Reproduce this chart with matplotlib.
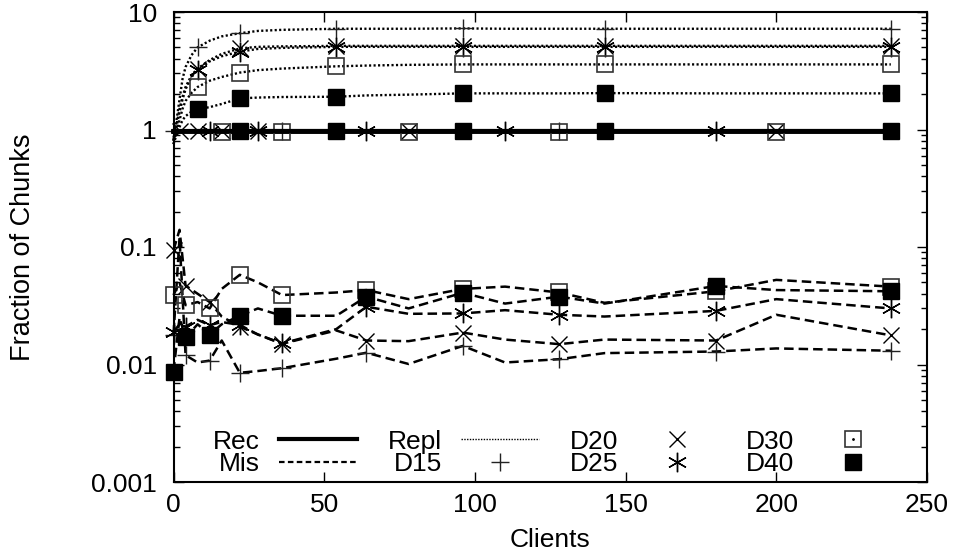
import matplotlib
matplotlib.use("Agg")
import matplotlib.pyplot as plt
from matplotlib.lines import Line2D

plt.rcParams['font.family'] = ['Liberation Sans Narrow', 'Liberation Sans', 'DejaVu Sans']

# client counts of the Rec / Mis measurements
clients = [0, 2, 4, 8, 12, 16, 22, 28, 36, 54, 64, 78, 96, 110, 128, 143, 180, 200, 238]
# client counts of the Repl measurements (denser at the start)
repl_clients = [0, 1, 2, 3, 4, 6, 8, 12, 16, 22, 28, 36, 54, 64, 78, 96, 110, 128, 143, 180, 200, 238]

series = ['D15', 'D20', 'D25', 'D30', 'D40']

rec = {
    'D15': [0.965, 0.966, 0.966, 0.965, 0.966, 0.965, 0.966, 0.966, 0.965, 0.966, 0.966, 0.965, 0.966, 0.966, 0.965, 0.966, 0.966, 0.965, 0.966],
    'D20': [0.970, 0.970, 0.969, 0.970, 0.970, 0.970, 0.969, 0.970, 0.970, 0.970, 0.970, 0.969, 0.970, 0.970, 0.970, 0.970, 0.969, 0.970, 0.970],
    'D25': [0.960, 0.961, 0.962, 0.962, 0.962, 0.962, 0.962, 0.962, 0.962, 0.962, 0.962, 0.962, 0.962, 0.962, 0.962, 0.962, 0.962, 0.962, 0.962],
    'D30': [0.955, 0.957, 0.958, 0.958, 0.958, 0.958, 0.958, 0.958, 0.958, 0.958, 0.958, 0.958, 0.958, 0.958, 0.958, 0.958, 0.958, 0.958, 0.958],
    'D40': [0.968, 0.968, 0.968, 0.968, 0.968, 0.968, 0.968, 0.968, 0.968, 0.968, 0.968, 0.968, 0.968, 0.968, 0.968, 0.968, 0.968, 0.968, 0.968],
}

mis = {
    'D15': [0.018, 0.12, 0.012, 0.0104, 0.0108, 0.016, 0.0085, 0.0088, 0.0093, 0.0112, 0.0126, 0.0101, 0.0144, 0.0104, 0.0111, 0.0125, 0.0129, 0.0137, 0.0131],
    'D20': [0.094, 0.14, 0.047, 0.040, 0.034, 0.0256, 0.021, 0.018, 0.015, 0.0195, 0.016, 0.0158, 0.0187, 0.0163, 0.0149, 0.0163, 0.016, 0.0265, 0.0177],
    'D25': [0.019, 0.022, 0.021, 0.024, 0.0216, 0.023, 0.0217, 0.018, 0.0151, 0.020, 0.031, 0.027, 0.0272, 0.029, 0.0265, 0.0256, 0.0286, 0.036, 0.030],
    'D30': [0.039, 0.050, 0.032, 0.034, 0.030, 0.044, 0.058, 0.050, 0.039, 0.041, 0.043, 0.036, 0.044, 0.046, 0.041, 0.0335, 0.042, 0.0525, 0.046],
    'D40': [0.0087, 0.025, 0.017, 0.022, 0.018, 0.022, 0.026, 0.030, 0.026, 0.026, 0.0378, 0.030, 0.0408, 0.033, 0.0378, 0.033, 0.0466, 0.043, 0.042],
}

repl = {
    'D15': [0.85, 1.2, 1.8, 2.7, 3.4, 4.3, 5.0, 5.7, 6.2, 6.6, 6.9, 7.05, 7.2, 7.2, 7.2, 7.25, 7.2, 7.2, 7.2, 7.2, 7.2, 7.2],
    'D20': [0.80, 1.1, 1.5, 1.9, 2.3, 2.9, 3.3, 3.9, 4.4, 4.9, 5.05, 5.1, 5.15, 5.15, 5.15, 5.15, 5.15, 5.15, 5.15, 5.15, 5.15, 5.15],
    'D25': [0.80, 1.05, 1.4, 1.8, 2.2, 2.8, 3.2, 3.8, 4.2, 4.6, 4.85, 4.95, 5.05, 5.05, 5.05, 5.05, 5.05, 5.05, 5.05, 5.05, 5.05, 5.05],
    'D30': [0.75, 0.95, 1.2, 1.5, 1.75, 2.05, 2.3, 2.6, 2.8, 3.05, 3.2, 3.3, 3.45, 3.5, 3.55, 3.58, 3.58, 3.58, 3.58, 3.58, 3.58, 3.58],
    'D40': [0.75, 0.9, 1.05, 1.2, 1.3, 1.42, 1.49, 1.55, 1.65, 1.84, 1.87, 1.89, 1.90, 1.95, 1.98, 2.03, 2.03, 2.03, 2.04, 2.03, 2.03, 2.03],
}

# which Rec samples carry a point symbol
rec_points = {
    'D15': [0, 8, 14],
    'D20': [1, 3, 5, 7, 11, 17],
    'D25': [4, 7, 10, 13, 16],
    'D30': [5, 8, 11, 14, 17],
    'D40': [6, 9, 12, 15, 18],
}

x_ticks = [0, 50, 100, 150, 200, 250]
y_ticks = [0.001, 0.01, 0.1, 1, 10]
y_tick_labels = ['0.001', '0.01', '0.1', '1', '10']

point_style = {
    'D15': dict(marker='+', markersize=13, markeredgewidth=1.0, markeredgecolor='#222222'),
    'D20': dict(marker='x', markersize=11.5, markeredgewidth=1.0, markeredgecolor='black'),
    'D25': dict(marker=(6, 2, 0), markersize=14, markeredgewidth=1.0, markeredgecolor='black'),
    'D30': dict(marker='s', markersize=12, markeredgewidth=1.2, markeredgecolor='#333333',
                markerfacecolor='none'),
    'D40': dict(marker='s', markersize=12, markeredgewidth=1.0, markeredgecolor='black',
                markerfacecolor='black'),
}

rec_style = dict(color='black', linewidth=3.0, linestyle='-')
mis_style = dict(color='black', linewidth=1.8, linestyle=(0, (3.8, 2.0)))
repl_style = dict(color='black', linewidth=1.7, linestyle=(0, (0.9, 1.0)))

FS = 19

W, H = 959, 557
fig = plt.figure(figsize=(W / 100, H / 100), dpi=100)
left, right, top, bottom = 173.5, 927, 12, 482
ax = fig.add_axes([left / W, 1 - bottom / H, (right - left) / W, (bottom - top) / H])

for name in series:
    ax.plot(clients, rec[name], markevery=rec_points[name], clip_on=False,
            **rec_style, **point_style[name])
for name in series:
    ax.plot(repl_clients, repl[name], markevery=(6, 3), clip_on=False,
            **repl_style, **point_style[name])
for name in series:
    ax.plot(clients, mis[name], markevery=2, clip_on=False,
            **mis_style, **point_style[name])

ax.set_yscale('log')
ax.set_xlim(0, 250)
ax.set_ylim(0.001, 10)
ax.set_xticks(x_ticks)
ax.set_xticklabels([str(v) for v in x_ticks])
ax.set_yticks(y_ticks)
ax.set_yticklabels(y_tick_labels)

ax.tick_params(which='both', direction='in', top=True, right=True, labelsize=FS, colors='black')
ax.tick_params(which='major', length=7, width=1.0)
ax.tick_params(which='minor', length=4, width=1.0)
ax.tick_params(axis='x', pad=8)
ax.tick_params(axis='y', pad=12)
for sp in ax.spines.values():
    sp.set_linewidth(1.5)

ax.set_xlabel('Clients', fontsize=FS)
ax.set_ylabel('Fraction of Chunks', fontsize=19.5)
ax.xaxis.set_label_coords(0.5, -0.098)
ax.yaxis.set_label_coords(-0.183, 0.5)

# key: line types first, then the point symbols of each configuration
legend_handles = [
    Line2D([], [], **rec_style),
    Line2D([], [], color='black', linewidth=1.6, linestyle=(0, (2.5, 1.5))),
    Line2D([], [], color='black', linewidth=1.0, linestyle=(0, (1, 1))),
    Line2D([], [], linestyle='none', **point_style['D15']),
    Line2D([], [], linestyle='none', **point_style['D20']),
    Line2D([], [], linestyle='none', **point_style['D25']),
    (Line2D([], [], linestyle='none', **point_style['D30']),
     Line2D([], [], linestyle='none', marker='.', markersize=2, color='black')),
    Line2D([], [], linestyle='none', **point_style['D40']),
]
legend_labels = ['Rec', 'Mis', 'Repl', 'D15', 'D20', 'D25', 'D30', 'D40']
ax.legend(legend_handles, legend_labels, ncol=4, loc='lower left',
          bbox_to_anchor=(0.052, 0.012), frameon=False, markerfirst=False,
          handlelength=2.95, handletextpad=0.75, columnspacing=1.15,
          labelspacing=-0.05, fontsize=FS, borderpad=0, borderaxespad=0)

fig.savefig('out.png', dpi=100)
